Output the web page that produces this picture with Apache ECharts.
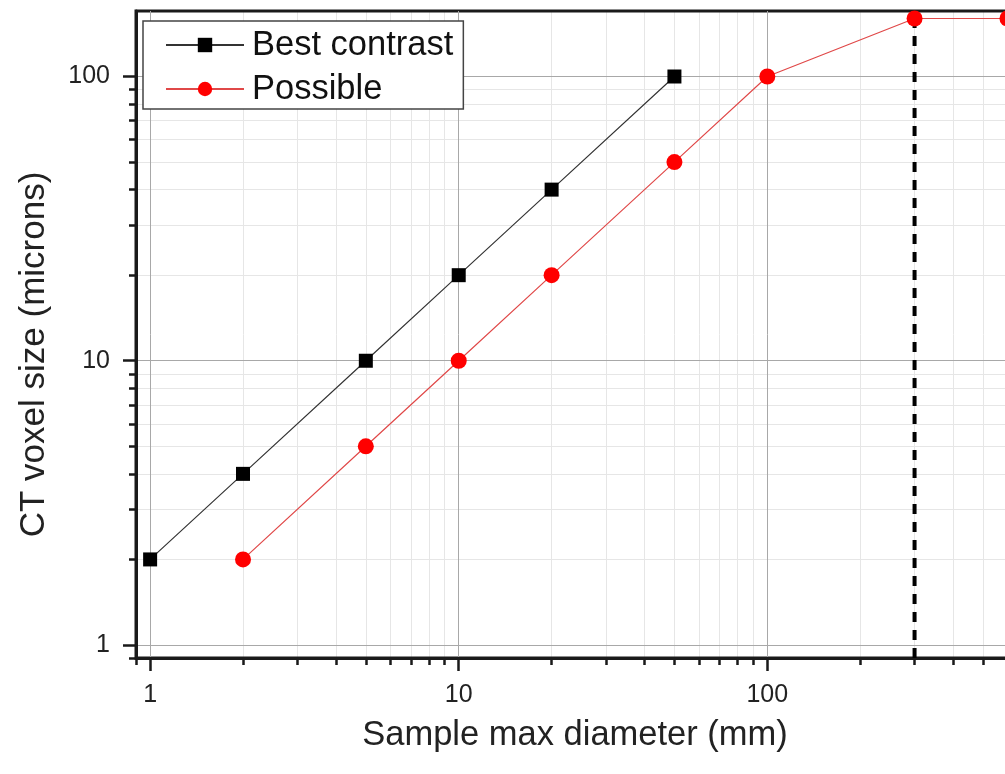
<!DOCTYPE html>
<html>
<head>
<meta charset="utf-8">
<script src="https://cdn.jsdelivr.net/npm/echarts@6/dist/echarts.min.js"></script>
<style>
html,body{margin:0;padding:0;background:#fff;}
#chart{width:1005px;height:774px;}
</style>
</head>
<body>
<div id="chart"></div>
<script>
// Data
const bestX = [1, 2, 5, 10, 20, 50];
const bestY = [2, 4, 10, 20, 40, 100];
const possibleX = [2, 5, 10, 20, 50, 100, 300, 600];
const possibleY = [2, 5, 10, 20, 50, 100, 160, 160];
const limitX = [300];
const xMajorTicks = [1, 10, 100];
const xMinorTicks = [0.9, 2, 3, 4, 5, 6, 7, 8, 9, 20, 30, 40, 50, 60, 70, 80, 90, 200, 300, 400, 500, 600];
const yMajorTicks = [1, 10, 100];
const yMinorTicks = [0.9, 2, 3, 4, 5, 6, 7, 8, 9, 20, 30, 40, 50, 60, 70, 80, 90];
const xMin = 0.9, xMax = 630, yMin = 0.9, yMax = 170;

const FONT = 'Liberation Sans, Arial, sans-serif';
const chart = echarts.init(document.getElementById('chart'), null, {renderer: 'canvas'});

function majorAxis(min, max, ticks, isX) {
  return {
    type: 'log', logBase: 10, min: min, max: max,
    position: isX ? 'bottom' : 'left',
    axisLine: {show: true, onZero: false, lineStyle: {color: '#1a1a1a', width: 3}},
    axisTick: {show: true, inside: false, length: 13, customValues: ticks,
      lineStyle: {color: '#1a1a1a', width: 2.5}},
    axisLabel: {show: true, customValues: ticks, fontSize: 25, color: '#222',
      fontFamily: FONT, margin: isX ? 25 : 26, formatter: v => String(v)},
    splitLine: {show: true, lineStyle: {color: '#a8a8a8', width: 1}},
    minorTick: {show: false}, minorSplitLine: {show: false}
  };
}
function minorAxis(min, max, ticks, isX) {
  return {
    type: 'log', logBase: 10, min: min, max: max,
    position: isX ? 'bottom' : 'left',
    axisLine: {show: false, onZero: false},
    axisTick: {show: true, inside: false, length: 7, customValues: ticks,
      lineStyle: {color: '#1a1a1a', width: 2.5}},
    axisLabel: {show: false, customValues: ticks},
    splitLine: {show: true, lineStyle: {color: '#e6e6e6', width: 1}},
    z: -1
  };
}

const xMajor = majorAxis(xMin, xMax, xMajorTicks, true);
xMajor.name = 'Sample max diameter (mm)';
xMajor.nameLocation = 'middle';
xMajor.nameGap = 60;
xMajor.nameTextStyle = {fontSize: 34.5, color: '#222', fontFamily: FONT};
const yMajor = majorAxis(yMin, yMax, yMajorTicks, false);
yMajor.name = 'CT voxel size (microns)';
yMajor.nameLocation = 'middle';
yMajor.nameGap = 84;
yMajor.nameTextStyle = {fontSize: 35, color: '#222', fontFamily: FONT, padding: [0, 40, 0, 0]};

const option = {
  backgroundColor: '#fff',
  animation: false,
  grid: {left: 136, top: 11, right: -9, bottom: 116, show: true,
    outerBoundsMode: 'none', containLabel: false,
    borderColor: '#1a1a1a', borderWidth: 3, backgroundColor: 'transparent'},
  legend: {
    data: ['Best contrast', 'Possible'],
    orient: 'vertical', left: 143, top: 21,
    padding: [6, 10, 2, 22],
    itemWidth: 78, itemHeight: 18, itemGap: 8,
    backgroundColor: '#fff', borderColor: '#444', borderWidth: 1.5,
    textStyle: {fontSize: 34.5, color: '#111', fontFamily: FONT, lineHeight: 36, padding: [0, 0, 0, 3]}
  },
  xAxis: [xMajor, minorAxis(xMin, xMax, xMinorTicks, true)],
  yAxis: [yMajor, minorAxis(yMin, yMax, yMinorTicks, false)],
  series: [
    {
      name: 'limit', type: 'line', xAxisIndex: 0, yAxisIndex: 0,
      data: [[limitX[0], yMin], [limitX[0], yMax]],
      symbol: 'none', silent: true, z: 1,
      lineStyle: {color: '#000', width: 4, type: [10, 8]}
    },
    {
      name: 'Best contrast', type: 'line', xAxisIndex: 0, yAxisIndex: 0,
      data: bestX.map((x, i) => [x, bestY[i]]),
      symbol: 'rect', symbolSize: 14, z: 3,
      itemStyle: {color: '#000'},
      lineStyle: {color: '#333', width: 1.2}
    },
    {
      name: 'Possible', type: 'line', xAxisIndex: 0, yAxisIndex: 0,
      data: possibleX.map((x, i) => [x, possibleY[i]]),
      symbol: 'circle', symbolSize: 16, z: 4,
      itemStyle: {color: '#f00'},
      lineStyle: {color: '#e04848', width: 1.2}
    }
  ]
};
chart.setOption(option);
</script>
</body>
</html>
